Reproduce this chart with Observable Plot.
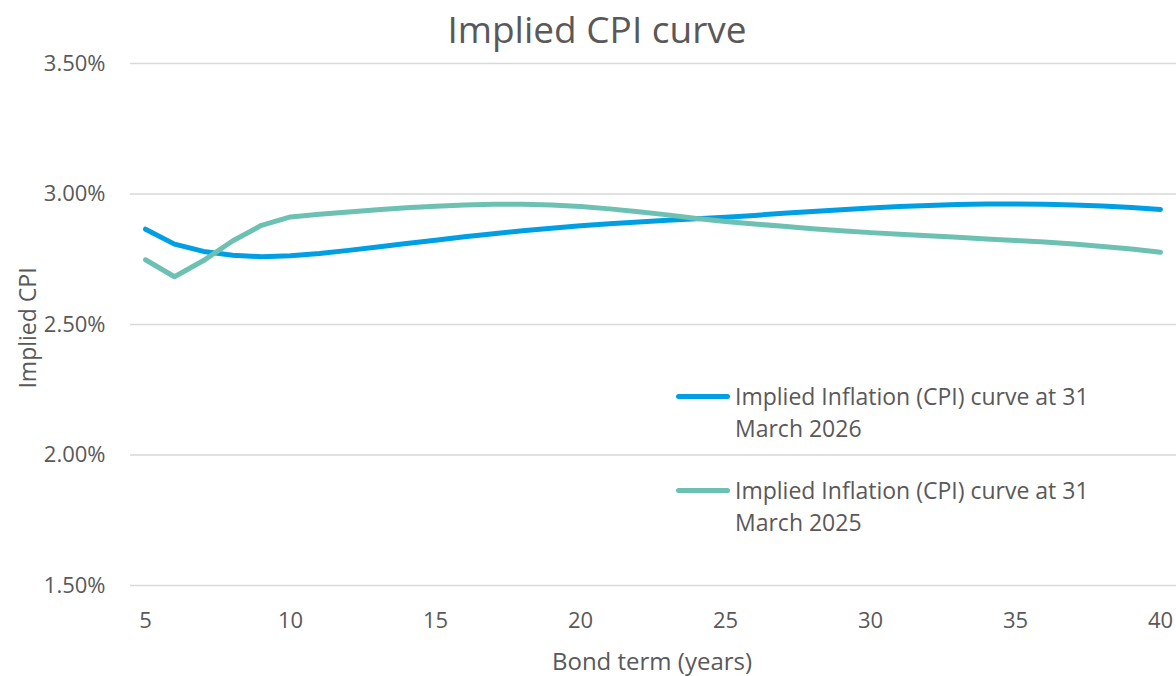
<!DOCTYPE html>
<html><head><meta charset="utf-8">
<script src="https://cdn.jsdelivr.net/npm/d3@7"></script>
<script src="https://cdn.jsdelivr.net/npm/@observablehq/plot@0.6"></script>
<style>
body{margin:0;background:#fff;font-family:"Open Sans",sans-serif;color:#595959;}
#wrap{position:relative;width:1176px;height:676px;overflow:hidden;}
#title{position:absolute;left:597px;top:28px;transform:translate(-50%,-50%);font-size:37px;white-space:nowrap;}
.ylab{position:absolute;left:27px;top:328px;transform:translate(-50%,-50%) rotate(-90deg);font-size:23px;white-space:nowrap;}
.xlab{position:absolute;left:652px;top:660px;transform:translate(-50%,-50%);font-size:24px;white-space:nowrap;}
.leg{position:absolute;left:676px;}
.sw{position:absolute;left:0;width:54px;height:5px;border-radius:3px;}
.lt{position:absolute;left:59px;top:0;font-size:23px;line-height:32px;white-space:nowrap;}
</style></head>
<body>
<div id="wrap">
<div id="chart"></div>
<div id="title">Implied CPI curve</div>
<div class="ylab">Implied CPI</div>
<div class="xlab">Bond term (years)</div>
<div id="legend"></div>
</div>
<script>
const terms = [5,6,7,8,9,10,11,12,13,14,15,16,17,18,19,20,21,22,23,24,25,26,27,28,29,30,31,32,33,34,35,36,37,38,39,40];
const cpi2026 = [2.865,2.808,2.780,2.765,2.760,2.763,2.772,2.784,2.797,2.810,2.823,2.836,2.848,2.859,2.869,2.878,2.886,2.893,2.899,2.905,2.911,2.918,2.926,2.933,2.940,2.946,2.952,2.956,2.960,2.962,2.962,2.961,2.958,2.954,2.948,2.941];
const cpi2025 = [2.748,2.683,2.745,2.820,2.880,2.912,2.922,2.931,2.940,2.947,2.953,2.958,2.961,2.961,2.958,2.952,2.943,2.932,2.920,2.906,2.895,2.885,2.876,2.867,2.859,2.852,2.846,2.840,2.834,2.828,2.822,2.816,2.808,2.799,2.789,2.777];
const seriesNames = ["Implied Inflation (CPI) curve at 31 March 2026","Implied Inflation (CPI) curve at 31 March 2025"];
const seriesColors = ["#009FE3","#6CC1B3"];
const xTicks = [5,10,15,20,25,30,35,40];
const yTicks = [1.5,2.0,2.5,3.0,3.5];

const rows = [];
terms.forEach((t,i)=>{
  rows.push({term:t, value:cpi2026[i], series:seriesNames[0]});
  rows.push({term:t, value:cpi2025[i], series:seriesNames[1]});
});

const chart = Plot.plot({
  width:1176, height:676,
  marginTop:63, marginBottom:91, marginLeft:145, marginRight:16,
  style:{fontFamily:"Open Sans, sans-serif", fontSize:"22px", color:"#595959", background:"#fff", overflow:"visible"},
  x:{domain:[5,40]},
  y:{domain:[1.5,3.5]},
  color:{domain:seriesNames, range:seriesColors},
  marks:[
    Plot.ruleY(yTicks, {stroke:"#d9d9d9", strokeWidth:1.5, insetLeft:-15, insetRight:-16}),
    Plot.axisY({ticks:yTicks, tickSize:0, tickPadding:40, tickFormat:d=>d.toFixed(2)+"%", label:null, fontSize:22}),
    Plot.axisX({ticks:xTicks, tickSize:0, tickPadding:27, tickFormat:d=>String(d), label:null, fontSize:22}),
    Plot.line(rows, {x:"term", y:"value", z:"series", stroke:"series", strokeWidth:5, strokeLinecap:"round", strokeLinejoin:"round"})
  ]
});
document.getElementById("chart").appendChild(chart);

const legend = document.getElementById("legend");
const legTops = [380, 474];
seriesNames.forEach((name,i)=>{
  const d = document.createElement("div");
  d.className = "leg";
  d.style.top = legTops[i] + "px";
  const sw = document.createElement("div");
  sw.className = "sw";
  sw.style.background = seriesColors[i];
  sw.style.top = "14px";
  const lt = document.createElement("div");
  lt.className = "lt";
  const parts = name.split(" 31 ");
  lt.innerHTML = parts[0] + " 31<br>" + parts[1];
  d.appendChild(sw); d.appendChild(lt);
  legend.appendChild(d);
});
</script>
</body></html>
